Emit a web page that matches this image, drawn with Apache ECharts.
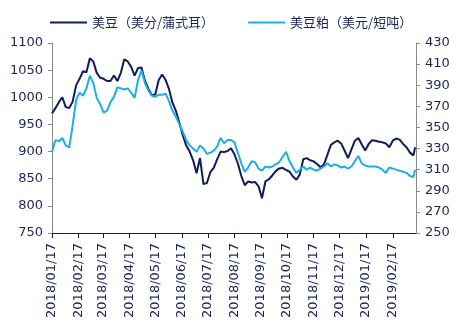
<!DOCTYPE html>
<html>
<head>
<meta charset="utf-8">
<script src="https://cdn.jsdelivr.net/npm/echarts@6.0.0/dist/echarts.min.js"></script>
<style>
html,body{margin:0;padding:0;background:#fff;}
#chart{width:474px;height:331px;}
</style>
</head>
<body>
<div id="chart"></div>
<script>
// Dates (every 4 days) shared by both series
var dates = [
'2018-01-17','2018-01-21','2018-01-25','2018-01-29','2018-02-02','2018-02-06','2018-02-10','2018-02-14','2018-02-18','2018-02-22',
'2018-02-26','2018-03-02','2018-03-06','2018-03-10','2018-03-14','2018-03-18','2018-03-22','2018-03-26','2018-03-30','2018-04-03',
'2018-04-07','2018-04-11','2018-04-15','2018-04-19','2018-04-23','2018-04-27','2018-05-01','2018-05-05','2018-05-09','2018-05-13',
'2018-05-17','2018-05-21','2018-05-25','2018-05-29','2018-06-02','2018-06-06','2018-06-10','2018-06-14','2018-06-18','2018-06-22',
'2018-06-26','2018-06-30','2018-07-04','2018-07-08','2018-07-12','2018-07-16','2018-07-20','2018-07-24','2018-07-28','2018-08-01',
'2018-08-05','2018-08-09','2018-08-13','2018-08-17','2018-08-21','2018-08-25','2018-08-29','2018-09-02','2018-09-06','2018-09-10',
'2018-09-14','2018-09-18','2018-09-22','2018-09-26','2018-09-30','2018-10-04','2018-10-08','2018-10-12','2018-10-16','2018-10-20',
'2018-10-24','2018-10-28','2018-11-01','2018-11-05','2018-11-09','2018-11-13','2018-11-17','2018-11-21','2018-11-25','2018-11-29',
'2018-12-03','2018-12-07','2018-12-11','2018-12-15','2018-12-19','2018-12-23','2018-12-27','2018-12-31','2019-01-04','2019-01-08',
'2019-01-12','2019-01-16','2019-01-20','2019-01-24','2019-01-28','2019-02-01','2019-02-05','2019-02-09','2019-02-13','2019-02-17',
'2019-02-21','2019-02-25','2019-03-01','2019-03-05','2019-03-09','2019-03-13','2019-03-15'
];
// 美豆 (US cents / bushel), left axis
var soybean = [
970,980,991,1000,982,980,992,1022,1034,1048,
1046,1072,1066,1045,1036,1034,1030,1030,1040,1030,
1045,1070,1066,1056,1040,1054,1055,1030,1016,1004,
1005,1032,1042,1032,1015,990,975,953,930,911,
900,884,860,888,840,842,862,870,886,900,
899,901,906,895,878,855,838,845,843,844,
836,814,845,849,856,864,869,870,866,863,
854,848,858,886,888,884,882,877,871,876,
894,912,917,920,915,902,888,904,920,925,
913,902,914,921,920,918,917,915,908,920,
924,922,914,908,898,893,908
];
// 美豆粕 (USD / short ton), right axis
var meal = [
327,338,337,340,333,331,352,376,383,380,
387,399,392,378,372,364,366,374,379,388,
387,386,387,383,378,395,404,392,385,380,
379,381,381,382,375,366,360,353,346,338,
333,330,327,333,330,325,326,328,332,340,
335,338,338,336,326,316,308,312,318,317,
311,309,313,312,313,315,317,322,327,318,
312,307,310,313,310,312,310,309,311,313,
316,313,315,314,312,313,311,313,318,323,
316,314,313,313,313,312,310,307,312,311,
310,309,308,307,304,303,310
];
var tickDates = ['2018-01-17','2018-02-17','2018-03-17','2018-04-17','2018-05-17','2018-06-17','2018-07-17',
'2018-08-17','2018-09-17','2018-10-17','2018-11-17','2018-12-17','2019-01-17','2019-02-17'];
var seriesNames = ['美豆（美分/蒲式耳）','美豆粕（美元/短吨）'];

var textColor = '#1B2557';
var darkColor = '#0E1D5A';
var lightColor = '#1EAEE6';

function ts(s){ return Date.parse(s + 'T00:00:00Z'); }
function pad(n){ return (n < 10 ? '0' : '') + n; }
var tickTs = tickDates.map(ts);

var chart = echarts.init(document.getElementById('chart'), null, {renderer:'canvas'});
chart.setOption({
  animation: false,
  backgroundColor: '#fff',
  textStyle: {fontFamily: 'DejaVu Sans, Noto Sans CJK SC'},
  legend: {
    top: 11, left: 45, itemGap: 34,
    itemWidth: 37, itemHeight: 2, icon: 'rect',
    textStyle: {fontSize: 13, color: textColor, fontFamily: 'Noto Sans CJK SC'},
    data: seriesNames
  },
  grid: {left: 52, right: 58, top: 43, bottom: 98, containLabel: false},
  xAxis: {
    type: 'value',
    min: ts('2018-01-17'), max: ts('2019-03-16'),
    splitLine: {show: false},
    axisLine: {show: true, lineStyle: {color: darkColor, width: 1}},
    axisTick: {show: true, customValues: tickTs, length: 5, lineStyle: {color: darkColor}},
    axisLabel: {
      customValues: tickTs, rotate: 90, margin: 10, fontSize: 13, color: textColor,
      fontFamily: 'DejaVu Sans',
      formatter: function(v){ var d = new Date(v); return d.getUTCFullYear() + '/' + pad(d.getUTCMonth()+1) + '/' + pad(d.getUTCDate()); }
    }
  },
  yAxis: [{
    type: 'value', min: 750, max: 1100, interval: 50, position: 'left',
    splitLine: {show: false},
    axisLine: {show: true, lineStyle: {color: '#8a8a8a'}},
    axisTick: {show: true, length: 4, lineStyle: {color: '#8a8a8a'}},
    axisLabel: {fontSize: 13, color: textColor, margin: 9, fontFamily: 'DejaVu Sans',
      formatter: function(v){ return String(v); }}
  },{
    type: 'value', min: 250, max: 430, interval: 20, position: 'right',
    splitLine: {show: false},
    axisLine: {show: true, lineStyle: {color: '#8a8a8a'}},
    axisTick: {show: true, length: 4, lineStyle: {color: '#8a8a8a'}},
    axisLabel: {fontSize: 13, color: textColor, margin: 9, fontFamily: 'DejaVu Sans',
      formatter: function(v){ return String(v); }}
  }],
  series: [{
    name: seriesNames[0], type: 'line', yAxisIndex: 0, showSymbol: false, symbol: 'none',
    itemStyle: {color: darkColor},
    lineStyle: {color: darkColor, width: 2},
    data: dates.map(function(d,i){ return [ts(d), soybean[i]]; }),
    z: 2
  },{
    name: seriesNames[1], type: 'line', yAxisIndex: 1, showSymbol: false, symbol: 'none',
    itemStyle: {color: lightColor},
    lineStyle: {color: lightColor, width: 2},
    data: dates.map(function(d,i){ return [ts(d), meal[i]]; }),
    z: 3
  }]
});
</script>
</body>
</html>
